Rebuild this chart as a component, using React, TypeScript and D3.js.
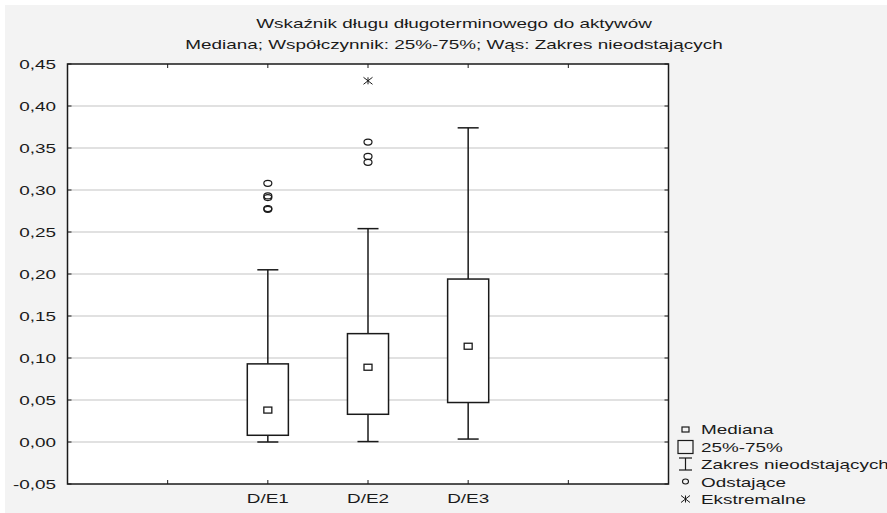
import React from "react";
import * as d3 from "d3";

const categories = ["D/E1", "D/E2", "D/E3"];
const medians = [0.038, 0.089, 0.114];
const q1 = [0.008, 0.033, 0.047];
const q3 = [0.093, 0.129, 0.194];
const whiskerLow = [0.0, 0.0005, 0.0035];
const whiskerHigh = [0.205, 0.254, 0.374];
const outliers = [
  [0.308, 0.293, 0.291, 0.278, 0.277],
  [0.357, 0.34, 0.333],
  [],
];
const extremes = [[], [0.43], []];
const yTicks = [-0.05, 0, 0.05, 0.1, 0.15, 0.2, 0.25, 0.3, 0.35, 0.4, 0.45];
const titleLines = [
  "Wskaźnik długu długoterminowego do aktywów",
  "Mediana; Współczynnik: 25%-75%; Wąs: Zakres nieodstających",
];
const legendItems = ["Mediana", "25%-75%", "Zakres nieodstających", "Odstające", "Ekstremalne"];

const W = 887;
const H = 513;
const SX = 1.4;
const FONT = "'Liberation Sans', Arial, sans-serif";
const FS = 13.5;
const INK = "#1a1a1a";

function T({ x, y, anchor = "start", children, size = FS }: any) {
  return (
    <text
      transform={`translate(${x},${y}) scale(${SX},1)`}
      textAnchor={anchor}
      fontFamily={FONT}
      fontSize={size}
      fill={INK}
    >
      {children}
    </text>
  );
}

function Star({ cx, cy }: { cx: number; cy: number }) {
  const rx = 4.5, ry = 3.5;
  return (
    <g stroke={INK} strokeWidth={1}>
      <line x1={cx} x2={cx} y1={cy - ry} y2={cy + ry} />
      <line x1={cx - rx} x2={cx + rx} y1={cy - ry} y2={cy + ry} />
      <line x1={cx - rx} x2={cx + rx} y1={cy + ry} y2={cy - ry} />
    </g>
  );
}

export default function App() {
  const left = 67.5, right = 668.5, top = 64, bottom = 484;
  const nSlots = categories.length + 3;
  const x = d3.scaleLinear().domain([0, nSlots]).range([left, right]);
  const y = d3.scaleLinear().domain([-0.05, 0.45]).range([bottom, top]);
  const step = x(1) - x(0);
  const boxHalf = step * 0.205;
  const capHalf = step * 0.105;
  const xTickPos = d3.range(1, nSlots);
  const fmt = (v: number) => d3.format(".2f")(v).replace(".", ",").replace("−", "-");

  const legX = 685.5;
  const legTextX = 701;
  const legBase = [434, 451.5, 469, 486.5, 504];

  return (
    <div style={{ position: "absolute", left: 0, top: 0 }}>
      <svg width={W} height={H} style={{ display: "block", background: "#fff" }}>
        <rect x={5} y={5} width={W - 5} height={H - 5} fill="#f3f3f3" />
        <rect x={left} y={top} width={right - left} height={bottom - top} fill="#fff" />
        {/* grid */}
        {yTicks.slice(1, -1).map((t) => (
          <line key={"g" + t} x1={left} x2={right} y1={y(t)} y2={y(t)} stroke="#c4c4c4" strokeWidth={1.2} />
        ))}
        {/* ticks inside */}
        {yTicks.map((t) => (
          <g key={"t" + t} stroke={INK} strokeWidth={1}>
            <line x1={left} x2={left + 4} y1={y(t)} y2={y(t)} />
            <line x1={right - 4} x2={right} y1={y(t)} y2={y(t)} />
          </g>
        ))}
        {xTickPos.map((p) => (
          <g key={"xt" + p} stroke={INK} strokeWidth={1}>
            <line x1={x(p)} x2={x(p)} y1={top} y2={top + 4} />
            <line x1={x(p)} x2={x(p)} y1={bottom} y2={bottom - 4} />
          </g>
        ))}
        {/* boxes */}
        {categories.map((c, i) => {
          const cx = x(i + 2);
          return (
            <g key={c} stroke={INK} strokeWidth={1.5} fill="none">
              <line x1={cx} x2={cx} y1={y(q3[i])} y2={y(whiskerHigh[i])} />
              <line x1={cx} x2={cx} y1={y(q1[i])} y2={y(whiskerLow[i])} />
              <line x1={cx - capHalf} x2={cx + capHalf} y1={y(whiskerHigh[i])} y2={y(whiskerHigh[i])} />
              <line x1={cx - capHalf} x2={cx + capHalf} y1={y(whiskerLow[i])} y2={y(whiskerLow[i])} />
              <rect x={cx - boxHalf} y={y(q3[i])} width={boxHalf * 2} height={y(q1[i]) - y(q3[i])} fill="#fff" />
              <rect x={cx - 4} y={y(medians[i]) - 3} width={8} height={6} fill="#fff" strokeWidth={1.3} />
              {outliers[i].map((v, k) => (
                <ellipse key={k} cx={cx} cy={y(v)} rx={4} ry={3} strokeWidth={1.2} />
              ))}
              {extremes[i].map((v, k) => (
                <Star key={"e" + k} cx={cx} cy={y(v)} />
              ))}
            </g>
          );
        })}
        {/* frame */}
        <rect x={left} y={top} width={right - left} height={bottom - top} fill="none" stroke={INK} strokeWidth={1.5} />
        {/* y labels */}
        {yTicks.map((t) => (
          <T key={"yl" + t} x={56} y={y(t) + 5} anchor="end">
            {fmt(t)}
          </T>
        ))}
        {/* x labels */}
        {categories.map((c, i) => (
          <T key={"xl" + c} x={x(i + 2)} y={503} anchor="middle">
            {c}
          </T>
        ))}
        {/* title */}
        <T x={454} y={28} anchor="middle">{titleLines[0]}</T>
        <T x={454} y={49} anchor="middle">{titleLines[1]}</T>
        {/* legend */}
        <g stroke={INK} fill="none">
          <rect x={legX - 3.5} y={legBase[0] - 7} width={7} height={5} strokeWidth={1.2} />
          <rect x={678} y={legBase[1] - 11} width={15} height={13} strokeWidth={1.2} />
          <line x1={legX} x2={legX} y1={legBase[2] - 11} y2={legBase[2] + 1} strokeWidth={1.2} />
          <line x1={679} x2={692} y1={legBase[2] - 11} y2={legBase[2] - 11} strokeWidth={1.2} />
          <line x1={679} x2={692} y1={legBase[2] + 1} y2={legBase[2] + 1} strokeWidth={1.2} />
          <ellipse cx={legX} cy={legBase[3] - 5} rx={3} ry={2.5} strokeWidth={1.1} />
        </g>
        <Star cx={legX} cy={legBase[4] - 5} />
        {legendItems.map((s, i) => (
          <T key={s} x={legTextX} y={legBase[i]}>
            {s}
          </T>
        ))}
      </svg>
    </div>
  );
}
